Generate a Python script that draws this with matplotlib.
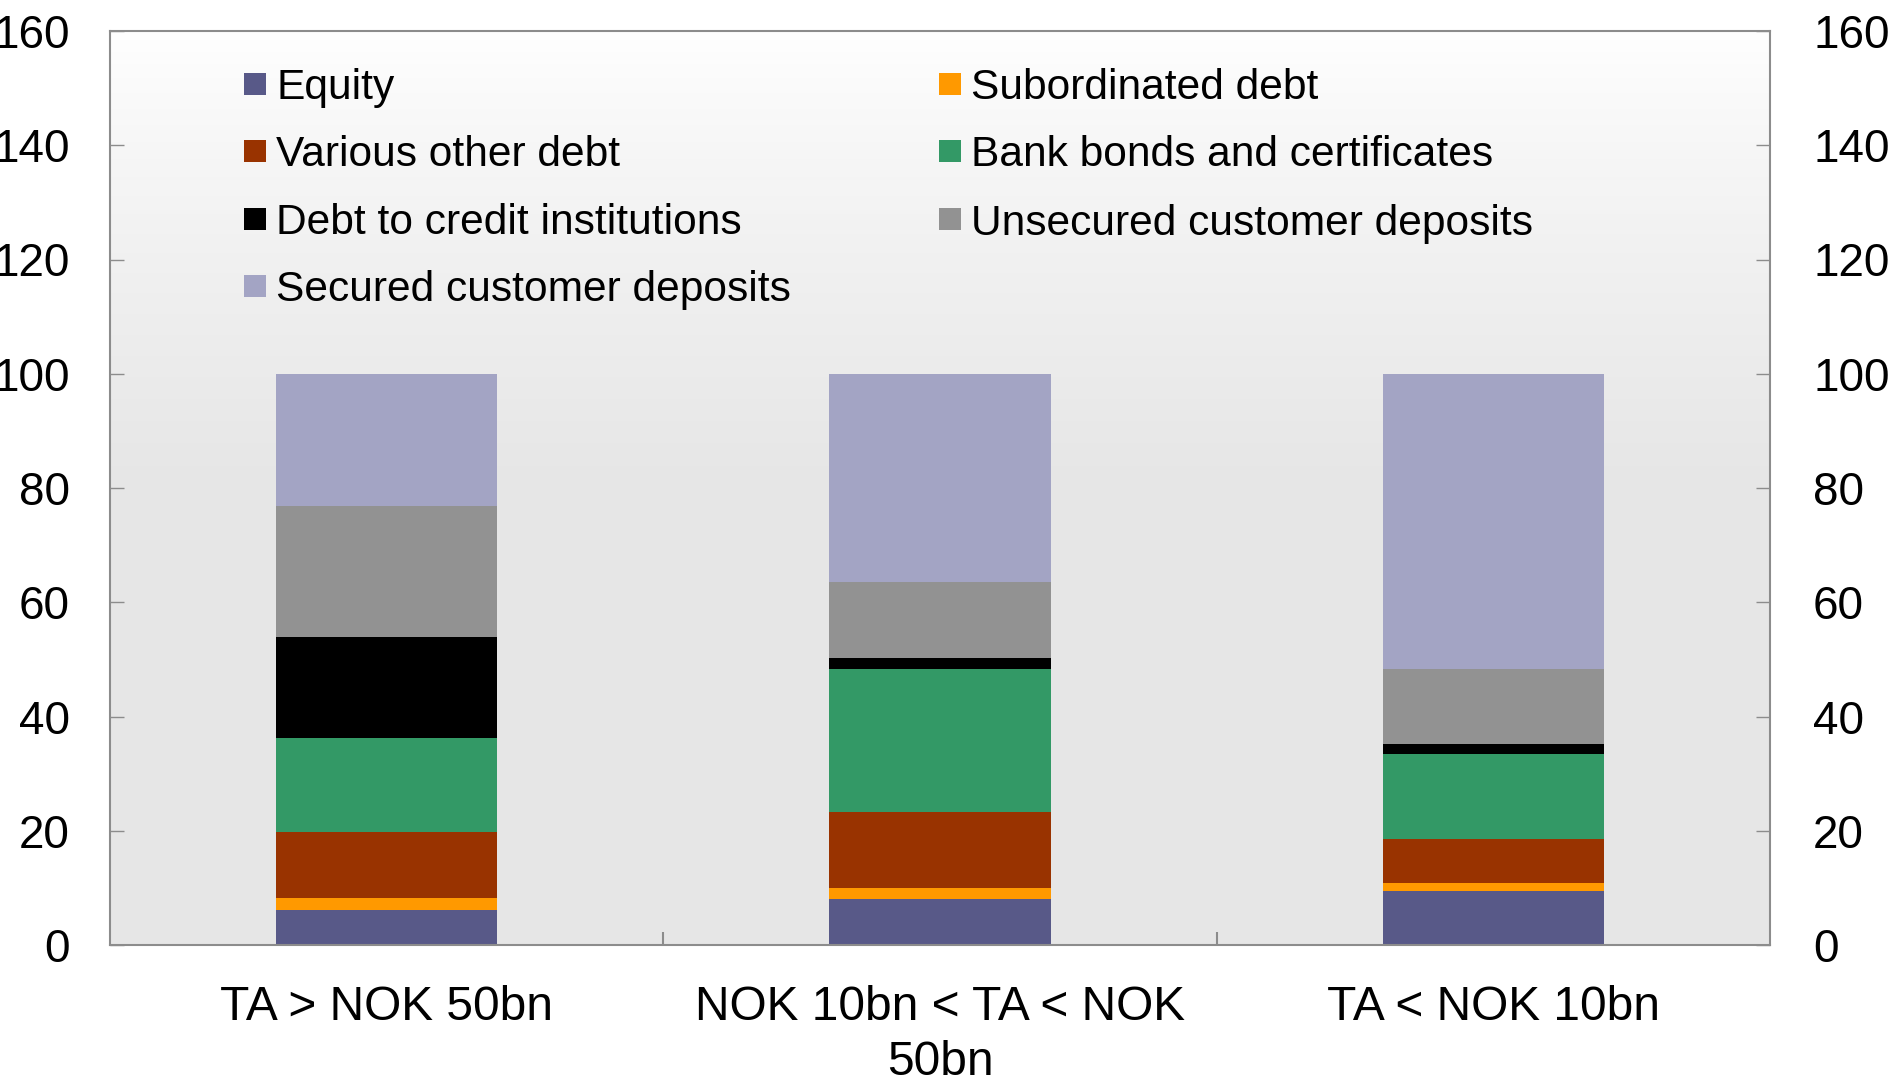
import numpy as np
import matplotlib
matplotlib.use("Agg")
import matplotlib.pyplot as plt
from matplotlib.patches import Rectangle

plt.rcParams['font.family'] = ['Liberation Sans', 'DejaVu Sans']

categories = ["TA > NOK 50bn", "NOK 10bn < TA < NOK\n50bn", "TA < NOK 10bn"]
series = ["Equity", "Subordinated debt", "Various other debt",
          "Bank bonds and certificates", "Debt to credit institutions",
          "Unsecured customer deposits", "Secured customer deposits"]
colors = ["#585988", "#ff9900", "#993300", "#339966", "#000000",
          "#929292", "#a3a4c4"]

equity = [6.1, 8.1, 9.5]
subordinated = [2.2, 1.9, 1.4]
various_other = [11.5, 13.2, 7.7]
bank_bonds = [16.5, 25.1, 14.9]
credit_inst = [17.6, 1.9, 1.6]
unsecured = [23.0, 13.4, 13.2]
secured = [23.1, 36.4, 51.6]
values = [equity, subordinated, various_other, bank_bonds, credit_inst,
          unsecured, secured]

yticks = [0, 20, 40, 60, 80, 100, 120, 140, 160]

W, H = 1893, 1088
fig = plt.figure(figsize=(W / 100, H / 100), dpi=100)
ax = fig.add_axes([110 / W, 1 - 945 / H, 1660 / W, 914 / H])

# background gradient: white at top fading to light grey
t = np.linspace(0, 1, 400)
shade = np.clip(t / 0.5, 0, 1) ** 0.8
g = 1.0 - (1.0 - 0.902) * shade
img = np.repeat(g[:, None], 2, axis=1)
ax.imshow(np.dstack([img, img, img]), extent=[0, 1, 0, 1], transform=ax.transAxes,
          aspect="auto", zorder=0, interpolation="bilinear")
ax.set_facecolor("none")

x = np.arange(len(categories))
bottom = np.zeros(len(categories))
for name, vals, c in zip(series, values, colors):
    ax.bar(x, vals, width=0.4, bottom=bottom, color=c, linewidth=0, zorder=2)
    bottom += np.array(vals)

ax.set_xlim(-0.5, 2.5)
ax.set_ylim(0, 160)
ax.set_yticks(yticks)
ax.set_xticks(x)
ax.set_xticklabels(categories, linespacing=1.27)
ax.set_xticks([0.5, 1.5], minor=True)

spine_c = "#8c8c8c"
for s in ax.spines.values():
    s.set_color(spine_c)
    s.set_linewidth(1.5)
    s.set_zorder(3)

ax.tick_params(axis="x", which="major", length=0, pad=29, labelsize=34.5)
ax.tick_params(axis="x", which="minor", direction="in", length=9.5, width=1.5,
               color=spine_c)
ax.tick_params(axis="y", direction="in", length=10, width=1, color=spine_c,
               labelsize=33, pad=29)

ax2 = ax.twinx()
ax2.set_ylim(0, 160)
ax2.set_yticks(yticks)
ax2.tick_params(axis="y", direction="in", length=10, width=1, color=spine_c,
                labelsize=33, pad=31)
for s in ax2.spines.values():
    s.set_visible(False)

# legend, two columns
col_x = [(244 - 110) / 1660, (939 - 110) / 1660]
row_y = [83.5, 151, 219, 286]
positions = [(0, 0), (0, 1), (0, 2), (0, 3), (1, 0), (1, 1), (1, 2)]
legend_items = [0, 2, 4, 6, 1, 3, 5]
sq_w = 22 / 1660
sq_h = 22 / 914
for (col, row), idx in zip(positions, legend_items):
    xa = col_x[col]
    ya = 1 - (row_y[row] - 31) / 914
    ax.add_patch(Rectangle((xa, ya - sq_h / 2), sq_w, sq_h, transform=ax.transAxes,
                           facecolor=colors[idx], edgecolor="none", zorder=4))
    ax.text(xa + sq_w + 10 / 1660, ya, series[idx], transform=ax.transAxes,
            fontsize=30.6, va="center_baseline", ha="left", zorder=4)

fig.savefig("out.png", dpi=100)
